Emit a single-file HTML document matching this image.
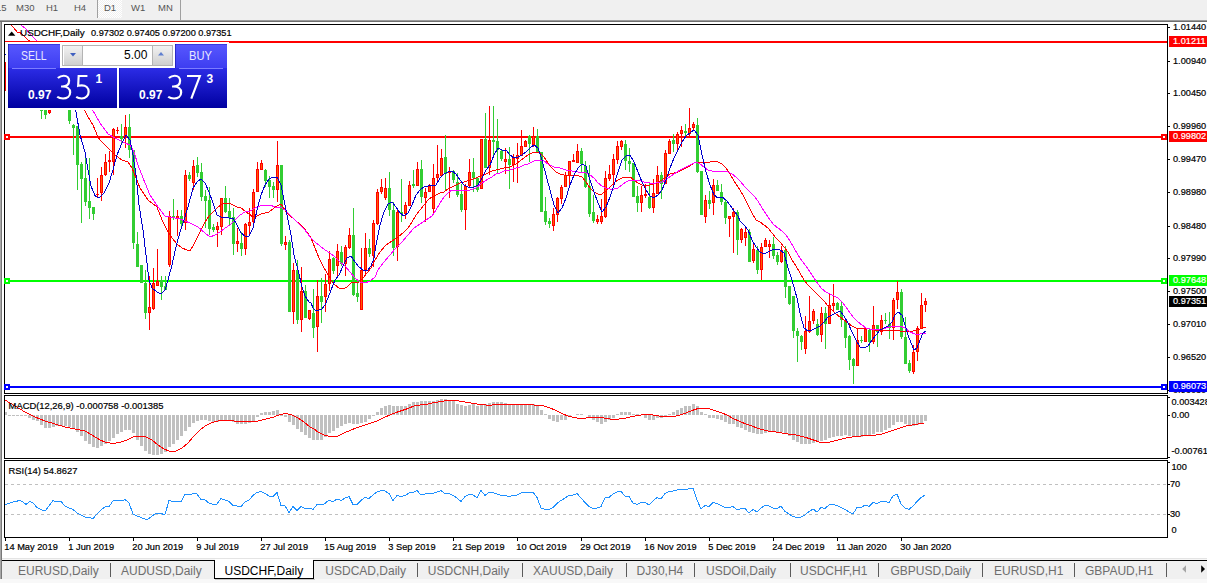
<!DOCTYPE html>
<html><head><meta charset="utf-8"><title>USDCHF,Daily</title>
<style>
html,body{margin:0;padding:0;}
body{width:1207px;height:583px;overflow:hidden;background:#fff;font-family:"Liberation Sans", sans-serif;position:relative;}
.abs{position:absolute;}
.t{position:absolute;white-space:nowrap;line-height:1;}
.k{-webkit-text-stroke:0.2px #000;}
.tf{position:absolute;top:2.4px;font-size:9.5px;color:#555;line-height:12px;white-space:nowrap;}
.ax{position:absolute;left:1173px;font-size:9.2px;color:#000;line-height:10px;white-space:nowrap;-webkit-text-stroke:0.2px #000;}
.lab{position:absolute;left:1169px;width:38px;height:11px;font-size:9.2px;color:#fff;line-height:11px;white-space:nowrap;text-indent:4px;-webkit-text-stroke:0.2px #fff;}
.dt{position:absolute;top:541.5px;font-size:9.25px;-webkit-text-stroke:0.2px #000;color:#000;line-height:10px;white-space:nowrap;}
.tab{position:absolute;top:563.8px;font-size:12px;color:#6e6e6e;line-height:15px;white-space:nowrap;}
.sep{position:absolute;top:563px;width:1px;height:14px;background:#5a5a5a;}
</style></head><body>
<div class="abs" style="left:0;top:0;width:1207px;height:20px;background:#f0f0f0;"></div>
<div class="abs" style="left:0;top:20px;width:1207px;height:1px;background:#9c9c9c;"></div>
<div class="abs" style="left:0;top:21px;width:1207px;height:1px;background:#6e6e6e;"></div>
<div class="abs" style="left:97px;top:0;width:25px;height:18px;background:repeating-conic-gradient(#ffffff 0 25%,#f0f0f0 0 50%) 0 0/2px 2px;border-left:1px solid #a0a0a0;box-sizing:border-box;"></div>
<div class="abs" style="left:180px;top:0;width:1px;height:20px;background:#a0a0a0;"></div>
<div class="tf" style="left:-4px;">15</div>
<div class="tf" style="left:16px;">M30</div>
<div class="tf" style="left:46px;">H1</div>
<div class="tf" style="left:74px;">H4</div>
<div class="tf" style="left:104px;">D1</div>
<div class="tf" style="left:131px;">W1</div>
<div class="tf" style="left:158px;">MN</div>
<div class="abs" style="left:0;top:22px;width:2px;height:536px;background:#787878;"></div>
<div class="abs" style="left:0;top:22px;width:1px;height:536px;background:#a8a8a8;"></div>
<svg class="abs" style="left:0;top:0;" width="1207" height="583" viewBox="0 0 1207 583" shape-rendering="crispEdges">
<rect x="229" y="41" width="938" height="2" fill="#ff0000"/>
<rect x="5" y="41" width="224" height="1" fill="#ff0000"/>
<rect x="4" y="136" width="1163" height="2" fill="#ff0000"/>
<rect x="4" y="280" width="1163" height="2" fill="#00ff00"/>
<rect x="4" y="386" width="1163" height="2" fill="#0000ff"/>
<rect x="41" y="110" width="1" height="9" fill="#32cd32"/>
<rect x="40" y="110" width="3" height="1" fill="#32cd32"/>
<rect x="45" y="110" width="1" height="9" fill="#32cd32"/>
<rect x="44" y="110" width="3" height="5" fill="#32cd32"/>
<rect x="49" y="110" width="1" height="4" fill="#ff0000"/>
<rect x="48" y="110" width="3" height="3" fill="#ff0000"/>
<rect x="49" y="111" width="1" height="1" fill="#ff5a00"/>
<rect x="69" y="110" width="1" height="14" fill="#32cd32"/>
<rect x="68" y="110" width="3" height="11" fill="#32cd32"/>
<rect x="73" y="124" width="1" height="31" fill="#32cd32"/>
<rect x="72" y="125" width="3" height="3" fill="#32cd32"/>
<rect x="77" y="126" width="1" height="64" fill="#32cd32"/>
<rect x="76" y="126" width="3" height="39" fill="#32cd32"/>
<rect x="81" y="162" width="1" height="61" fill="#32cd32"/>
<rect x="80" y="164" width="3" height="15" fill="#32cd32"/>
<rect x="85" y="155" width="1" height="51" fill="#32cd32"/>
<rect x="84" y="178" width="3" height="24" fill="#32cd32"/>
<rect x="89" y="158" width="1" height="61" fill="#32cd32"/>
<rect x="88" y="201" width="3" height="7" fill="#32cd32"/>
<rect x="93" y="207" width="1" height="13" fill="#32cd32"/>
<rect x="92" y="207" width="3" height="7" fill="#32cd32"/>
<rect x="97" y="178" width="1" height="20" fill="#ff0000"/>
<rect x="96" y="194" width="3" height="1" fill="#ff0000"/>
<rect x="101" y="167" width="1" height="34" fill="#ff0000"/>
<rect x="100" y="175" width="3" height="18" fill="#ff0000"/>
<rect x="101" y="176" width="1" height="16" fill="#ff5a00"/>
<rect x="105" y="154" width="1" height="22" fill="#ff0000"/>
<rect x="104" y="162" width="3" height="13" fill="#ff0000"/>
<rect x="105" y="163" width="1" height="11" fill="#ff5a00"/>
<rect x="109" y="151" width="1" height="21" fill="#ff0000"/>
<rect x="108" y="160" width="3" height="2" fill="#ff0000"/>
<rect x="113" y="128" width="1" height="47" fill="#ff0000"/>
<rect x="112" y="129" width="3" height="33" fill="#ff0000"/>
<rect x="113" y="130" width="1" height="31" fill="#ff5a00"/>
<rect x="117" y="127" width="1" height="7" fill="#ff0000"/>
<rect x="116" y="130" width="3" height="1" fill="#ff0000"/>
<rect x="121" y="124" width="1" height="20" fill="#32cd32"/>
<rect x="120" y="136" width="3" height="3" fill="#32cd32"/>
<rect x="125" y="115" width="1" height="33" fill="#ff0000"/>
<rect x="124" y="127" width="3" height="11" fill="#ff0000"/>
<rect x="125" y="128" width="1" height="9" fill="#ff5a00"/>
<rect x="129" y="114" width="1" height="44" fill="#32cd32"/>
<rect x="128" y="127" width="3" height="23" fill="#32cd32"/>
<rect x="133" y="150" width="1" height="99" fill="#32cd32"/>
<rect x="132" y="150" width="3" height="93" fill="#32cd32"/>
<rect x="137" y="232" width="1" height="35" fill="#32cd32"/>
<rect x="136" y="244" width="3" height="23" fill="#32cd32"/>
<rect x="141" y="265" width="1" height="18" fill="#32cd32"/>
<rect x="140" y="265" width="3" height="18" fill="#32cd32"/>
<rect x="145" y="270" width="1" height="49" fill="#32cd32"/>
<rect x="144" y="283" width="3" height="30" fill="#32cd32"/>
<rect x="149" y="276" width="1" height="54" fill="#ff0000"/>
<rect x="148" y="307" width="3" height="6" fill="#ff0000"/>
<rect x="149" y="308" width="1" height="4" fill="#ff5a00"/>
<rect x="153" y="268" width="1" height="42" fill="#ff0000"/>
<rect x="152" y="283" width="3" height="26" fill="#ff0000"/>
<rect x="153" y="284" width="1" height="24" fill="#ff5a00"/>
<rect x="157" y="249" width="1" height="37" fill="#ff0000"/>
<rect x="156" y="281" width="3" height="5" fill="#ff0000"/>
<rect x="157" y="282" width="1" height="3" fill="#ff5a00"/>
<rect x="161" y="276" width="1" height="24" fill="#32cd32"/>
<rect x="160" y="280" width="3" height="7" fill="#32cd32"/>
<rect x="165" y="276" width="1" height="14" fill="#32cd32"/>
<rect x="164" y="286" width="3" height="4" fill="#32cd32"/>
<rect x="169" y="211" width="1" height="56" fill="#ff0000"/>
<rect x="168" y="216" width="3" height="49" fill="#ff0000"/>
<rect x="169" y="217" width="1" height="47" fill="#ff5a00"/>
<rect x="173" y="199" width="1" height="21" fill="#32cd32"/>
<rect x="172" y="216" width="3" height="2" fill="#32cd32"/>
<rect x="177" y="210" width="1" height="26" fill="#ff0000"/>
<rect x="176" y="216" width="3" height="3" fill="#ff0000"/>
<rect x="177" y="217" width="1" height="1" fill="#ff5a00"/>
<rect x="181" y="210" width="1" height="18" fill="#32cd32"/>
<rect x="180" y="216" width="3" height="8" fill="#32cd32"/>
<rect x="185" y="170" width="1" height="60" fill="#ff0000"/>
<rect x="184" y="175" width="3" height="48" fill="#ff0000"/>
<rect x="185" y="176" width="1" height="46" fill="#ff5a00"/>
<rect x="189" y="172" width="1" height="9" fill="#32cd32"/>
<rect x="188" y="175" width="3" height="4" fill="#32cd32"/>
<rect x="193" y="160" width="1" height="30" fill="#ff0000"/>
<rect x="192" y="166" width="3" height="17" fill="#ff0000"/>
<rect x="193" y="167" width="1" height="15" fill="#ff5a00"/>
<rect x="197" y="157" width="1" height="20" fill="#32cd32"/>
<rect x="196" y="165" width="3" height="8" fill="#32cd32"/>
<rect x="201" y="163" width="1" height="38" fill="#32cd32"/>
<rect x="200" y="172" width="3" height="25" fill="#32cd32"/>
<rect x="205" y="190" width="1" height="38" fill="#32cd32"/>
<rect x="204" y="196" width="3" height="5" fill="#32cd32"/>
<rect x="209" y="187" width="1" height="48" fill="#32cd32"/>
<rect x="208" y="200" width="3" height="29" fill="#32cd32"/>
<rect x="213" y="224" width="1" height="8" fill="#32cd32"/>
<rect x="212" y="227" width="3" height="3" fill="#32cd32"/>
<rect x="217" y="222" width="1" height="25" fill="#ff0000"/>
<rect x="216" y="226" width="3" height="4" fill="#ff0000"/>
<rect x="217" y="227" width="1" height="2" fill="#ff5a00"/>
<rect x="221" y="198" width="1" height="37" fill="#ff0000"/>
<rect x="220" y="198" width="3" height="29" fill="#ff0000"/>
<rect x="221" y="199" width="1" height="27" fill="#ff5a00"/>
<rect x="225" y="186" width="1" height="27" fill="#32cd32"/>
<rect x="224" y="198" width="3" height="14" fill="#32cd32"/>
<rect x="229" y="198" width="1" height="28" fill="#32cd32"/>
<rect x="228" y="211" width="3" height="7" fill="#32cd32"/>
<rect x="233" y="208" width="1" height="47" fill="#32cd32"/>
<rect x="232" y="217" width="3" height="27" fill="#32cd32"/>
<rect x="237" y="228" width="1" height="24" fill="#ff0000"/>
<rect x="236" y="241" width="3" height="3" fill="#ff0000"/>
<rect x="237" y="242" width="1" height="1" fill="#ff5a00"/>
<rect x="241" y="232" width="1" height="24" fill="#32cd32"/>
<rect x="240" y="243" width="3" height="6" fill="#32cd32"/>
<rect x="245" y="223" width="1" height="32" fill="#ff0000"/>
<rect x="244" y="224" width="3" height="25" fill="#ff0000"/>
<rect x="245" y="225" width="1" height="23" fill="#ff5a00"/>
<rect x="249" y="208" width="1" height="28" fill="#ff0000"/>
<rect x="248" y="222" width="3" height="4" fill="#ff0000"/>
<rect x="249" y="223" width="1" height="2" fill="#ff5a00"/>
<rect x="253" y="189" width="1" height="35" fill="#ff0000"/>
<rect x="252" y="192" width="3" height="30" fill="#ff0000"/>
<rect x="253" y="193" width="1" height="28" fill="#ff5a00"/>
<rect x="257" y="162" width="1" height="30" fill="#ff0000"/>
<rect x="256" y="169" width="3" height="23" fill="#ff0000"/>
<rect x="257" y="170" width="1" height="21" fill="#ff5a00"/>
<rect x="261" y="160" width="1" height="10" fill="#ff0000"/>
<rect x="260" y="163" width="3" height="7" fill="#ff0000"/>
<rect x="261" y="164" width="1" height="5" fill="#ff5a00"/>
<rect x="265" y="169" width="1" height="18" fill="#32cd32"/>
<rect x="264" y="170" width="3" height="11" fill="#32cd32"/>
<rect x="269" y="176" width="1" height="22" fill="#32cd32"/>
<rect x="268" y="180" width="3" height="7" fill="#32cd32"/>
<rect x="273" y="182" width="1" height="16" fill="#32cd32"/>
<rect x="272" y="186" width="3" height="4" fill="#32cd32"/>
<rect x="277" y="141" width="1" height="61" fill="#ff0000"/>
<rect x="276" y="165" width="3" height="25" fill="#ff0000"/>
<rect x="277" y="166" width="1" height="23" fill="#ff5a00"/>
<rect x="281" y="165" width="1" height="81" fill="#32cd32"/>
<rect x="280" y="165" width="3" height="79" fill="#32cd32"/>
<rect x="285" y="236" width="1" height="14" fill="#ff0000"/>
<rect x="284" y="242" width="3" height="3" fill="#ff0000"/>
<rect x="285" y="243" width="1" height="1" fill="#ff5a00"/>
<rect x="289" y="240" width="1" height="72" fill="#32cd32"/>
<rect x="288" y="242" width="3" height="70" fill="#32cd32"/>
<rect x="293" y="263" width="1" height="61" fill="#ff0000"/>
<rect x="292" y="270" width="3" height="42" fill="#ff0000"/>
<rect x="293" y="271" width="1" height="40" fill="#ff5a00"/>
<rect x="297" y="260" width="1" height="64" fill="#32cd32"/>
<rect x="296" y="270" width="3" height="50" fill="#32cd32"/>
<rect x="301" y="267" width="1" height="65" fill="#ff0000"/>
<rect x="300" y="291" width="3" height="29" fill="#ff0000"/>
<rect x="301" y="292" width="1" height="27" fill="#ff5a00"/>
<rect x="305" y="285" width="1" height="33" fill="#32cd32"/>
<rect x="304" y="291" width="3" height="27" fill="#32cd32"/>
<rect x="309" y="310" width="1" height="10" fill="#ff0000"/>
<rect x="308" y="310" width="3" height="9" fill="#ff0000"/>
<rect x="309" y="311" width="1" height="7" fill="#ff5a00"/>
<rect x="313" y="289" width="1" height="49" fill="#32cd32"/>
<rect x="312" y="313" width="3" height="15" fill="#32cd32"/>
<rect x="317" y="280" width="1" height="72" fill="#ff0000"/>
<rect x="316" y="296" width="3" height="31" fill="#ff0000"/>
<rect x="317" y="297" width="1" height="29" fill="#ff5a00"/>
<rect x="321" y="278" width="1" height="45" fill="#32cd32"/>
<rect x="320" y="296" width="3" height="6" fill="#32cd32"/>
<rect x="325" y="274" width="1" height="38" fill="#ff0000"/>
<rect x="324" y="284" width="3" height="13" fill="#ff0000"/>
<rect x="325" y="285" width="1" height="11" fill="#ff5a00"/>
<rect x="329" y="251" width="1" height="40" fill="#ff0000"/>
<rect x="328" y="259" width="3" height="25" fill="#ff0000"/>
<rect x="329" y="260" width="1" height="23" fill="#ff5a00"/>
<rect x="333" y="257" width="1" height="17" fill="#32cd32"/>
<rect x="332" y="258" width="3" height="13" fill="#32cd32"/>
<rect x="337" y="244" width="1" height="34" fill="#ff0000"/>
<rect x="336" y="251" width="3" height="15" fill="#ff0000"/>
<rect x="337" y="252" width="1" height="13" fill="#ff5a00"/>
<rect x="341" y="246" width="1" height="20" fill="#32cd32"/>
<rect x="340" y="252" width="3" height="12" fill="#32cd32"/>
<rect x="345" y="245" width="1" height="31" fill="#ff0000"/>
<rect x="344" y="247" width="3" height="17" fill="#ff0000"/>
<rect x="345" y="248" width="1" height="15" fill="#ff5a00"/>
<rect x="349" y="228" width="1" height="21" fill="#ff0000"/>
<rect x="348" y="235" width="3" height="13" fill="#ff0000"/>
<rect x="349" y="236" width="1" height="11" fill="#ff5a00"/>
<rect x="353" y="208" width="1" height="88" fill="#32cd32"/>
<rect x="352" y="235" width="3" height="60" fill="#32cd32"/>
<rect x="357" y="281" width="1" height="21" fill="#32cd32"/>
<rect x="356" y="293" width="3" height="4" fill="#32cd32"/>
<rect x="361" y="248" width="1" height="62" fill="#ff0000"/>
<rect x="360" y="270" width="3" height="40" fill="#ff0000"/>
<rect x="361" y="271" width="1" height="38" fill="#ff5a00"/>
<rect x="365" y="233" width="1" height="43" fill="#ff0000"/>
<rect x="364" y="248" width="3" height="22" fill="#ff0000"/>
<rect x="365" y="249" width="1" height="20" fill="#ff5a00"/>
<rect x="369" y="239" width="1" height="18" fill="#32cd32"/>
<rect x="368" y="248" width="3" height="6" fill="#32cd32"/>
<rect x="373" y="220" width="1" height="47" fill="#ff0000"/>
<rect x="372" y="223" width="3" height="33" fill="#ff0000"/>
<rect x="373" y="224" width="1" height="31" fill="#ff5a00"/>
<rect x="377" y="189" width="1" height="36" fill="#ff0000"/>
<rect x="376" y="192" width="3" height="32" fill="#ff0000"/>
<rect x="377" y="193" width="1" height="30" fill="#ff5a00"/>
<rect x="381" y="179" width="1" height="15" fill="#ff0000"/>
<rect x="380" y="187" width="3" height="5" fill="#ff0000"/>
<rect x="381" y="188" width="1" height="3" fill="#ff5a00"/>
<rect x="385" y="178" width="1" height="22" fill="#ff0000"/>
<rect x="384" y="188" width="3" height="10" fill="#ff0000"/>
<rect x="385" y="189" width="1" height="8" fill="#ff5a00"/>
<rect x="389" y="172" width="1" height="44" fill="#32cd32"/>
<rect x="388" y="188" width="3" height="22" fill="#32cd32"/>
<rect x="393" y="202" width="1" height="54" fill="#32cd32"/>
<rect x="392" y="210" width="3" height="38" fill="#32cd32"/>
<rect x="397" y="209" width="1" height="52" fill="#ff0000"/>
<rect x="396" y="212" width="3" height="35" fill="#ff0000"/>
<rect x="397" y="213" width="1" height="33" fill="#ff5a00"/>
<rect x="401" y="179" width="1" height="43" fill="#32cd32"/>
<rect x="400" y="212" width="3" height="2" fill="#32cd32"/>
<rect x="405" y="202" width="1" height="17" fill="#ff0000"/>
<rect x="404" y="205" width="3" height="9" fill="#ff0000"/>
<rect x="405" y="206" width="1" height="7" fill="#ff5a00"/>
<rect x="409" y="181" width="1" height="25" fill="#ff0000"/>
<rect x="408" y="185" width="3" height="21" fill="#ff0000"/>
<rect x="409" y="186" width="1" height="19" fill="#ff5a00"/>
<rect x="413" y="170" width="1" height="18" fill="#32cd32"/>
<rect x="412" y="184" width="3" height="2" fill="#32cd32"/>
<rect x="417" y="162" width="1" height="24" fill="#ff0000"/>
<rect x="416" y="169" width="3" height="17" fill="#ff0000"/>
<rect x="417" y="170" width="1" height="15" fill="#ff5a00"/>
<rect x="421" y="160" width="1" height="43" fill="#32cd32"/>
<rect x="420" y="169" width="3" height="28" fill="#32cd32"/>
<rect x="425" y="188" width="1" height="34" fill="#ff0000"/>
<rect x="424" y="192" width="3" height="6" fill="#ff0000"/>
<rect x="425" y="193" width="1" height="4" fill="#ff5a00"/>
<rect x="429" y="184" width="1" height="8" fill="#ff0000"/>
<rect x="428" y="186" width="3" height="6" fill="#ff0000"/>
<rect x="429" y="187" width="1" height="4" fill="#ff5a00"/>
<rect x="433" y="164" width="1" height="51" fill="#ff0000"/>
<rect x="432" y="178" width="3" height="31" fill="#ff0000"/>
<rect x="433" y="179" width="1" height="29" fill="#ff5a00"/>
<rect x="437" y="145" width="1" height="38" fill="#ff0000"/>
<rect x="436" y="174" width="3" height="4" fill="#ff0000"/>
<rect x="437" y="175" width="1" height="2" fill="#ff5a00"/>
<rect x="441" y="149" width="1" height="27" fill="#ff0000"/>
<rect x="440" y="158" width="3" height="18" fill="#ff0000"/>
<rect x="441" y="159" width="1" height="16" fill="#ff5a00"/>
<rect x="445" y="135" width="1" height="56" fill="#32cd32"/>
<rect x="444" y="157" width="3" height="17" fill="#32cd32"/>
<rect x="449" y="167" width="1" height="31" fill="#ff0000"/>
<rect x="448" y="171" width="3" height="2" fill="#ff0000"/>
<rect x="453" y="170" width="1" height="13" fill="#32cd32"/>
<rect x="452" y="171" width="3" height="9" fill="#32cd32"/>
<rect x="457" y="173" width="1" height="24" fill="#32cd32"/>
<rect x="456" y="182" width="3" height="13" fill="#32cd32"/>
<rect x="461" y="184" width="1" height="28" fill="#32cd32"/>
<rect x="460" y="194" width="3" height="16" fill="#32cd32"/>
<rect x="465" y="184" width="1" height="46" fill="#ff0000"/>
<rect x="464" y="186" width="3" height="24" fill="#ff0000"/>
<rect x="465" y="187" width="1" height="22" fill="#ff5a00"/>
<rect x="469" y="159" width="1" height="28" fill="#ff0000"/>
<rect x="468" y="172" width="3" height="14" fill="#ff0000"/>
<rect x="469" y="173" width="1" height="12" fill="#ff5a00"/>
<rect x="473" y="158" width="1" height="34" fill="#32cd32"/>
<rect x="472" y="172" width="3" height="6" fill="#32cd32"/>
<rect x="477" y="177" width="1" height="15" fill="#32cd32"/>
<rect x="476" y="178" width="3" height="12" fill="#32cd32"/>
<rect x="481" y="139" width="1" height="50" fill="#ff0000"/>
<rect x="480" y="139" width="3" height="50" fill="#ff0000"/>
<rect x="481" y="140" width="1" height="48" fill="#ff5a00"/>
<rect x="485" y="113" width="1" height="55" fill="#32cd32"/>
<rect x="484" y="139" width="3" height="29" fill="#32cd32"/>
<rect x="489" y="106" width="1" height="69" fill="#ff0000"/>
<rect x="488" y="140" width="3" height="28" fill="#ff0000"/>
<rect x="489" y="141" width="1" height="26" fill="#ff5a00"/>
<rect x="493" y="106" width="1" height="51" fill="#32cd32"/>
<rect x="492" y="140" width="3" height="2" fill="#32cd32"/>
<rect x="497" y="119" width="1" height="55" fill="#32cd32"/>
<rect x="496" y="141" width="3" height="9" fill="#32cd32"/>
<rect x="501" y="150" width="1" height="11" fill="#32cd32"/>
<rect x="500" y="151" width="3" height="8" fill="#32cd32"/>
<rect x="505" y="148" width="1" height="26" fill="#ff0000"/>
<rect x="504" y="159" width="3" height="3" fill="#ff0000"/>
<rect x="505" y="160" width="1" height="1" fill="#ff5a00"/>
<rect x="509" y="147" width="1" height="42" fill="#32cd32"/>
<rect x="508" y="159" width="3" height="6" fill="#32cd32"/>
<rect x="513" y="154" width="1" height="28" fill="#ff0000"/>
<rect x="512" y="158" width="3" height="7" fill="#ff0000"/>
<rect x="513" y="159" width="1" height="5" fill="#ff5a00"/>
<rect x="517" y="143" width="1" height="40" fill="#ff0000"/>
<rect x="516" y="155" width="3" height="4" fill="#ff0000"/>
<rect x="517" y="156" width="1" height="2" fill="#ff5a00"/>
<rect x="521" y="130" width="1" height="26" fill="#ff0000"/>
<rect x="520" y="146" width="3" height="10" fill="#ff0000"/>
<rect x="521" y="147" width="1" height="8" fill="#ff5a00"/>
<rect x="525" y="140" width="1" height="7" fill="#ff0000"/>
<rect x="524" y="141" width="3" height="6" fill="#ff0000"/>
<rect x="525" y="142" width="1" height="4" fill="#ff5a00"/>
<rect x="529" y="135" width="1" height="27" fill="#32cd32"/>
<rect x="528" y="136" width="3" height="8" fill="#32cd32"/>
<rect x="533" y="127" width="1" height="20" fill="#ff0000"/>
<rect x="532" y="136" width="3" height="9" fill="#ff0000"/>
<rect x="533" y="137" width="1" height="7" fill="#ff5a00"/>
<rect x="537" y="129" width="1" height="24" fill="#32cd32"/>
<rect x="536" y="136" width="3" height="17" fill="#32cd32"/>
<rect x="541" y="152" width="1" height="60" fill="#32cd32"/>
<rect x="540" y="152" width="3" height="60" fill="#32cd32"/>
<rect x="545" y="197" width="1" height="28" fill="#32cd32"/>
<rect x="544" y="211" width="3" height="11" fill="#32cd32"/>
<rect x="549" y="218" width="1" height="10" fill="#32cd32"/>
<rect x="548" y="221" width="3" height="3" fill="#32cd32"/>
<rect x="553" y="208" width="1" height="23" fill="#ff0000"/>
<rect x="552" y="214" width="3" height="12" fill="#ff0000"/>
<rect x="553" y="215" width="1" height="10" fill="#ff5a00"/>
<rect x="557" y="197" width="1" height="25" fill="#ff0000"/>
<rect x="556" y="198" width="3" height="17" fill="#ff0000"/>
<rect x="557" y="199" width="1" height="15" fill="#ff5a00"/>
<rect x="561" y="185" width="1" height="19" fill="#ff0000"/>
<rect x="560" y="187" width="3" height="12" fill="#ff0000"/>
<rect x="561" y="188" width="1" height="10" fill="#ff5a00"/>
<rect x="565" y="172" width="1" height="15" fill="#ff0000"/>
<rect x="564" y="175" width="3" height="12" fill="#ff0000"/>
<rect x="565" y="176" width="1" height="10" fill="#ff5a00"/>
<rect x="569" y="161" width="1" height="25" fill="#ff0000"/>
<rect x="568" y="161" width="3" height="15" fill="#ff0000"/>
<rect x="569" y="162" width="1" height="13" fill="#ff5a00"/>
<rect x="573" y="154" width="1" height="8" fill="#ff0000"/>
<rect x="572" y="160" width="3" height="2" fill="#ff0000"/>
<rect x="577" y="144" width="1" height="19" fill="#ff0000"/>
<rect x="576" y="151" width="3" height="12" fill="#ff0000"/>
<rect x="577" y="152" width="1" height="10" fill="#ff5a00"/>
<rect x="581" y="148" width="1" height="24" fill="#32cd32"/>
<rect x="580" y="151" width="3" height="13" fill="#32cd32"/>
<rect x="585" y="161" width="1" height="27" fill="#32cd32"/>
<rect x="584" y="166" width="3" height="21" fill="#32cd32"/>
<rect x="589" y="165" width="1" height="52" fill="#32cd32"/>
<rect x="588" y="186" width="3" height="28" fill="#32cd32"/>
<rect x="593" y="195" width="1" height="28" fill="#32cd32"/>
<rect x="592" y="212" width="3" height="9" fill="#32cd32"/>
<rect x="597" y="215" width="1" height="9" fill="#ff0000"/>
<rect x="596" y="219" width="3" height="3" fill="#ff0000"/>
<rect x="597" y="220" width="1" height="1" fill="#ff5a00"/>
<rect x="601" y="199" width="1" height="25" fill="#ff0000"/>
<rect x="600" y="216" width="3" height="6" fill="#ff0000"/>
<rect x="601" y="217" width="1" height="4" fill="#ff5a00"/>
<rect x="605" y="171" width="1" height="47" fill="#ff0000"/>
<rect x="604" y="178" width="3" height="39" fill="#ff0000"/>
<rect x="605" y="179" width="1" height="37" fill="#ff5a00"/>
<rect x="609" y="165" width="1" height="16" fill="#ff0000"/>
<rect x="608" y="174" width="3" height="5" fill="#ff0000"/>
<rect x="609" y="175" width="1" height="3" fill="#ff5a00"/>
<rect x="613" y="154" width="1" height="31" fill="#ff0000"/>
<rect x="612" y="159" width="3" height="16" fill="#ff0000"/>
<rect x="613" y="160" width="1" height="14" fill="#ff5a00"/>
<rect x="617" y="141" width="1" height="23" fill="#ff0000"/>
<rect x="616" y="146" width="3" height="14" fill="#ff0000"/>
<rect x="617" y="147" width="1" height="12" fill="#ff5a00"/>
<rect x="621" y="140" width="1" height="10" fill="#ff0000"/>
<rect x="620" y="141" width="3" height="6" fill="#ff0000"/>
<rect x="621" y="142" width="1" height="4" fill="#ff5a00"/>
<rect x="625" y="140" width="1" height="30" fill="#32cd32"/>
<rect x="624" y="144" width="3" height="17" fill="#32cd32"/>
<rect x="629" y="148" width="1" height="24" fill="#32cd32"/>
<rect x="628" y="161" width="3" height="3" fill="#32cd32"/>
<rect x="633" y="163" width="1" height="34" fill="#32cd32"/>
<rect x="632" y="163" width="3" height="34" fill="#32cd32"/>
<rect x="637" y="186" width="1" height="26" fill="#32cd32"/>
<rect x="636" y="196" width="3" height="7" fill="#32cd32"/>
<rect x="641" y="186" width="1" height="26" fill="#ff0000"/>
<rect x="640" y="195" width="3" height="8" fill="#ff0000"/>
<rect x="641" y="196" width="1" height="6" fill="#ff5a00"/>
<rect x="645" y="184" width="1" height="14" fill="#ff0000"/>
<rect x="644" y="194" width="3" height="2" fill="#ff0000"/>
<rect x="649" y="182" width="1" height="27" fill="#32cd32"/>
<rect x="648" y="197" width="3" height="11" fill="#32cd32"/>
<rect x="653" y="179" width="1" height="34" fill="#ff0000"/>
<rect x="652" y="193" width="3" height="15" fill="#ff0000"/>
<rect x="653" y="194" width="1" height="13" fill="#ff5a00"/>
<rect x="657" y="166" width="1" height="28" fill="#ff0000"/>
<rect x="656" y="175" width="3" height="19" fill="#ff0000"/>
<rect x="657" y="176" width="1" height="17" fill="#ff5a00"/>
<rect x="661" y="172" width="1" height="27" fill="#32cd32"/>
<rect x="660" y="175" width="3" height="9" fill="#32cd32"/>
<rect x="665" y="150" width="1" height="34" fill="#ff0000"/>
<rect x="664" y="153" width="3" height="31" fill="#ff0000"/>
<rect x="665" y="154" width="1" height="29" fill="#ff5a00"/>
<rect x="669" y="139" width="1" height="15" fill="#ff0000"/>
<rect x="668" y="141" width="3" height="13" fill="#ff0000"/>
<rect x="669" y="142" width="1" height="11" fill="#ff5a00"/>
<rect x="673" y="134" width="1" height="18" fill="#32cd32"/>
<rect x="672" y="140" width="3" height="4" fill="#32cd32"/>
<rect x="677" y="132" width="1" height="20" fill="#ff0000"/>
<rect x="676" y="134" width="3" height="10" fill="#ff0000"/>
<rect x="677" y="135" width="1" height="8" fill="#ff5a00"/>
<rect x="681" y="126" width="1" height="21" fill="#ff0000"/>
<rect x="680" y="130" width="3" height="4" fill="#ff0000"/>
<rect x="681" y="131" width="1" height="2" fill="#ff5a00"/>
<rect x="685" y="124" width="1" height="13" fill="#32cd32"/>
<rect x="684" y="131" width="3" height="2" fill="#32cd32"/>
<rect x="689" y="108" width="1" height="30" fill="#ff0000"/>
<rect x="688" y="128" width="3" height="6" fill="#ff0000"/>
<rect x="689" y="129" width="1" height="4" fill="#ff5a00"/>
<rect x="693" y="122" width="1" height="8" fill="#ff0000"/>
<rect x="692" y="124" width="3" height="4" fill="#ff0000"/>
<rect x="693" y="125" width="1" height="2" fill="#ff5a00"/>
<rect x="697" y="118" width="1" height="55" fill="#32cd32"/>
<rect x="696" y="125" width="3" height="47" fill="#32cd32"/>
<rect x="701" y="171" width="1" height="44" fill="#32cd32"/>
<rect x="700" y="171" width="3" height="44" fill="#32cd32"/>
<rect x="705" y="195" width="1" height="28" fill="#ff0000"/>
<rect x="704" y="200" width="3" height="17" fill="#ff0000"/>
<rect x="705" y="201" width="1" height="15" fill="#ff5a00"/>
<rect x="709" y="191" width="1" height="18" fill="#32cd32"/>
<rect x="708" y="200" width="3" height="4" fill="#32cd32"/>
<rect x="713" y="179" width="1" height="36" fill="#ff0000"/>
<rect x="712" y="185" width="3" height="18" fill="#ff0000"/>
<rect x="713" y="186" width="1" height="16" fill="#ff5a00"/>
<rect x="717" y="180" width="1" height="11" fill="#32cd32"/>
<rect x="716" y="185" width="3" height="6" fill="#32cd32"/>
<rect x="721" y="184" width="1" height="21" fill="#32cd32"/>
<rect x="720" y="192" width="3" height="10" fill="#32cd32"/>
<rect x="725" y="200" width="1" height="24" fill="#32cd32"/>
<rect x="724" y="202" width="3" height="16" fill="#32cd32"/>
<rect x="729" y="216" width="1" height="21" fill="#ff0000"/>
<rect x="728" y="216" width="3" height="3" fill="#ff0000"/>
<rect x="729" y="217" width="1" height="1" fill="#ff5a00"/>
<rect x="733" y="208" width="1" height="45" fill="#ff0000"/>
<rect x="732" y="212" width="3" height="5" fill="#ff0000"/>
<rect x="733" y="213" width="1" height="3" fill="#ff5a00"/>
<rect x="737" y="210" width="1" height="45" fill="#32cd32"/>
<rect x="736" y="212" width="3" height="28" fill="#32cd32"/>
<rect x="741" y="228" width="1" height="15" fill="#ff0000"/>
<rect x="740" y="229" width="3" height="11" fill="#ff0000"/>
<rect x="741" y="230" width="1" height="9" fill="#ff5a00"/>
<rect x="745" y="228" width="1" height="18" fill="#ff0000"/>
<rect x="744" y="232" width="3" height="6" fill="#ff0000"/>
<rect x="745" y="233" width="1" height="4" fill="#ff5a00"/>
<rect x="749" y="229" width="1" height="33" fill="#32cd32"/>
<rect x="748" y="232" width="3" height="30" fill="#32cd32"/>
<rect x="753" y="244" width="1" height="19" fill="#ff0000"/>
<rect x="752" y="249" width="3" height="12" fill="#ff0000"/>
<rect x="753" y="250" width="1" height="10" fill="#ff5a00"/>
<rect x="757" y="246" width="1" height="28" fill="#32cd32"/>
<rect x="756" y="250" width="3" height="20" fill="#32cd32"/>
<rect x="761" y="243" width="1" height="37" fill="#ff0000"/>
<rect x="760" y="247" width="3" height="23" fill="#ff0000"/>
<rect x="761" y="248" width="1" height="21" fill="#ff5a00"/>
<rect x="765" y="238" width="1" height="9" fill="#ff0000"/>
<rect x="764" y="240" width="3" height="7" fill="#ff0000"/>
<rect x="765" y="241" width="1" height="5" fill="#ff5a00"/>
<rect x="769" y="240" width="1" height="18" fill="#ff0000"/>
<rect x="768" y="244" width="3" height="3" fill="#ff0000"/>
<rect x="769" y="245" width="1" height="1" fill="#ff5a00"/>
<rect x="773" y="237" width="1" height="22" fill="#32cd32"/>
<rect x="772" y="244" width="3" height="12" fill="#32cd32"/>
<rect x="777" y="252" width="1" height="13" fill="#32cd32"/>
<rect x="776" y="255" width="3" height="7" fill="#32cd32"/>
<rect x="781" y="246" width="1" height="17" fill="#ff0000"/>
<rect x="780" y="250" width="3" height="12" fill="#ff0000"/>
<rect x="781" y="251" width="1" height="10" fill="#ff5a00"/>
<rect x="785" y="246" width="1" height="52" fill="#32cd32"/>
<rect x="784" y="250" width="3" height="37" fill="#32cd32"/>
<rect x="789" y="286" width="1" height="19" fill="#32cd32"/>
<rect x="788" y="286" width="3" height="18" fill="#32cd32"/>
<rect x="793" y="296" width="1" height="42" fill="#32cd32"/>
<rect x="792" y="296" width="3" height="35" fill="#32cd32"/>
<rect x="797" y="328" width="1" height="34" fill="#32cd32"/>
<rect x="796" y="331" width="3" height="5" fill="#32cd32"/>
<rect x="801" y="335" width="1" height="15" fill="#32cd32"/>
<rect x="800" y="336" width="3" height="6" fill="#32cd32"/>
<rect x="805" y="316" width="1" height="38" fill="#ff0000"/>
<rect x="804" y="331" width="3" height="18" fill="#ff0000"/>
<rect x="805" y="332" width="1" height="16" fill="#ff5a00"/>
<rect x="809" y="296" width="1" height="37" fill="#ff0000"/>
<rect x="808" y="321" width="3" height="11" fill="#ff0000"/>
<rect x="809" y="322" width="1" height="9" fill="#ff5a00"/>
<rect x="813" y="309" width="1" height="15" fill="#ff0000"/>
<rect x="812" y="311" width="3" height="10" fill="#ff0000"/>
<rect x="813" y="312" width="1" height="8" fill="#ff5a00"/>
<rect x="817" y="319" width="1" height="17" fill="#32cd32"/>
<rect x="816" y="324" width="3" height="11" fill="#32cd32"/>
<rect x="821" y="307" width="1" height="35" fill="#ff0000"/>
<rect x="820" y="313" width="3" height="22" fill="#ff0000"/>
<rect x="821" y="314" width="1" height="20" fill="#ff5a00"/>
<rect x="825" y="307" width="1" height="42" fill="#32cd32"/>
<rect x="824" y="313" width="3" height="11" fill="#32cd32"/>
<rect x="829" y="293" width="1" height="31" fill="#ff0000"/>
<rect x="828" y="305" width="3" height="19" fill="#ff0000"/>
<rect x="829" y="306" width="1" height="17" fill="#ff5a00"/>
<rect x="833" y="284" width="1" height="28" fill="#ff0000"/>
<rect x="832" y="303" width="3" height="3" fill="#ff0000"/>
<rect x="833" y="304" width="1" height="1" fill="#ff5a00"/>
<rect x="837" y="302" width="1" height="8" fill="#32cd32"/>
<rect x="836" y="303" width="3" height="7" fill="#32cd32"/>
<rect x="841" y="301" width="1" height="26" fill="#32cd32"/>
<rect x="840" y="306" width="3" height="14" fill="#32cd32"/>
<rect x="845" y="318" width="1" height="30" fill="#32cd32"/>
<rect x="844" y="320" width="3" height="18" fill="#32cd32"/>
<rect x="849" y="335" width="1" height="35" fill="#32cd32"/>
<rect x="848" y="336" width="3" height="24" fill="#32cd32"/>
<rect x="853" y="358" width="1" height="26" fill="#32cd32"/>
<rect x="852" y="359" width="3" height="7" fill="#32cd32"/>
<rect x="857" y="328" width="1" height="38" fill="#ff0000"/>
<rect x="856" y="340" width="3" height="26" fill="#ff0000"/>
<rect x="857" y="341" width="1" height="24" fill="#ff5a00"/>
<rect x="861" y="336" width="1" height="7" fill="#32cd32"/>
<rect x="860" y="340" width="3" height="1" fill="#32cd32"/>
<rect x="865" y="327" width="1" height="15" fill="#ff0000"/>
<rect x="864" y="329" width="3" height="13" fill="#ff0000"/>
<rect x="865" y="330" width="1" height="11" fill="#ff5a00"/>
<rect x="869" y="329" width="1" height="23" fill="#32cd32"/>
<rect x="868" y="330" width="3" height="12" fill="#32cd32"/>
<rect x="873" y="306" width="1" height="38" fill="#ff0000"/>
<rect x="872" y="325" width="3" height="17" fill="#ff0000"/>
<rect x="873" y="326" width="1" height="15" fill="#ff5a00"/>
<rect x="877" y="325" width="1" height="22" fill="#32cd32"/>
<rect x="876" y="325" width="3" height="7" fill="#32cd32"/>
<rect x="881" y="315" width="1" height="20" fill="#ff0000"/>
<rect x="880" y="320" width="3" height="12" fill="#ff0000"/>
<rect x="881" y="321" width="1" height="10" fill="#ff5a00"/>
<rect x="885" y="313" width="1" height="11" fill="#32cd32"/>
<rect x="884" y="320" width="3" height="1" fill="#32cd32"/>
<rect x="889" y="312" width="1" height="27" fill="#32cd32"/>
<rect x="888" y="324" width="3" height="4" fill="#32cd32"/>
<rect x="893" y="298" width="1" height="42" fill="#ff0000"/>
<rect x="892" y="300" width="3" height="28" fill="#ff0000"/>
<rect x="893" y="301" width="1" height="26" fill="#ff5a00"/>
<rect x="897" y="281" width="1" height="28" fill="#ff0000"/>
<rect x="896" y="292" width="3" height="8" fill="#ff0000"/>
<rect x="897" y="293" width="1" height="6" fill="#ff5a00"/>
<rect x="901" y="289" width="1" height="50" fill="#32cd32"/>
<rect x="900" y="292" width="3" height="45" fill="#32cd32"/>
<rect x="905" y="317" width="1" height="47" fill="#32cd32"/>
<rect x="904" y="337" width="3" height="27" fill="#32cd32"/>
<rect x="909" y="360" width="1" height="13" fill="#32cd32"/>
<rect x="908" y="363" width="3" height="8" fill="#32cd32"/>
<rect x="913" y="345" width="1" height="29" fill="#ff0000"/>
<rect x="912" y="352" width="3" height="20" fill="#ff0000"/>
<rect x="913" y="353" width="1" height="18" fill="#ff5a00"/>
<rect x="917" y="326" width="1" height="35" fill="#ff0000"/>
<rect x="916" y="328" width="3" height="24" fill="#ff0000"/>
<rect x="917" y="329" width="1" height="22" fill="#ff5a00"/>
<rect x="921" y="293" width="1" height="36" fill="#ff0000"/>
<rect x="920" y="305" width="3" height="24" fill="#ff0000"/>
<rect x="921" y="306" width="1" height="22" fill="#ff5a00"/>
<rect x="925" y="298" width="1" height="14" fill="#ff0000"/>
<rect x="924" y="301" width="3" height="4" fill="#ff0000"/>
<rect x="925" y="302" width="1" height="2" fill="#ff5a00"/>
<polyline points="84,109 88,117 93,125 98,137 100,140 108,148 115,155 122,160 128,162 132,168 136,178 140,188 148,200 157,207 162,220 167,230 172,238 177,244 182,248 187,250 190,251 193,246 197,238 201,230 205,222 209,216 213,212 217,208 221,205 225,203 229,203 233,205 237,207 241,208 245,211 249,214 253,217 257,216 261,214 265,213 269,212 273,209 277,206 281,204 283,207 287,213 295,220 303,227 307,232 311,238 315,248 319,258 323,266 327,273 331,280 335,285 339,288 343,289 347,287 351,283 355,282 359,282 363,278 367,273 371,268 374,262 380,252 386,245 392,241 398,237 404,232 408,228 412,222 416,215 420,210 424,205 428,200 432,197 436,195 440,193 444,192 448,189 452,187 456,185 460,183 464,182 470,180 476,178 480,176 484,175 488,173 492,171 496,170 500,169 504,168 510,167 516,164 520,161 524,158 528,155 532,153 536,152 540,153 544,157 548,163 552,168 556,172 560,174 564,175 570,175 576,175 582,177 586,182 590,188 594,192 598,194 602,194 606,191 610,187 614,183 618,180 622,178 626,177 630,177 634,180 638,183 642,185 646,185 650,185 654,184 658,182 662,180 666,177 670,174 674,173 678,172 682,170 686,168 690,166 694,163 698,162 702,162 706,163 710,162 714,161 718,162 722,164 726,168 730,174 734,181 738,187 743,195 748,205 752,213 756,220 760,222 764,225 768,228 772,233 776,238 780,242 784,247 788,252 792,260 796,266 800,273 804,280 808,285 812,289 816,293 820,297 824,301 828,306 832,310 836,314 840,317 844,320 848,323 852,326 856,328 862,328 866,328 870,329 874,330 880,330 890,330 900,331 910,332 920,329 926,327" fill="none" stroke="#ff0000" stroke-width="1" stroke-linejoin="round"/>
<polyline points="92,109 100,123 108,134 115,138 125,143 130,145 134,152 138,165 143,178 150,195 158,207 165,216 170,217 180,219 190,223 198,227 205,233 210,237 215,235 220,232 225,228 230,225 235,220 240,215 245,212 250,211 255,208 260,206 265,205 270,205 275,207 280,207 285,210 290,215 295,220 300,225 305,230 310,237 315,242 320,246 325,250 330,253 335,257 340,262 345,266 350,272 355,278 360,282 365,283 370,281 375,277 378,270 384,262 390,255 396,248 402,242 408,235 414,228 420,224 426,220 432,216 436,210 440,203 444,197 448,193 452,190 456,190 460,190 464,191 470,190 476,188 482,183 488,179 492,177 496,174 500,173 504,171 510,170 516,168 520,167 524,165 528,164 532,162 536,160 540,160 544,161 548,164 554,167 560,168 566,170 572,171 578,172 584,172 590,175 594,178 598,183 602,186 606,188 610,189 614,189 618,188 622,185 626,182 630,180 634,180 638,180 644,182 650,183 656,183 662,182 668,178 674,174 680,170 686,167 692,164 696,162 700,164 704,167 708,170 712,171 718,171 724,171 728,172 732,174 736,177 740,181 745,187 750,192 754,196 758,201 762,208 766,214 770,220 774,225 778,228 782,231 786,235 790,241 794,248 798,255 802,261 806,266 810,272 814,278 818,284 822,289 826,292 830,294 834,296 838,298 842,302 846,307 850,313 854,318 858,322 862,325 866,328 870,329 875,330 882,329 890,327 896,326 900,326 905,328 910,332 915,334 920,334 926,333" fill="none" stroke="#ff00ff" stroke-width="1" stroke-linejoin="round"/>
<polyline points="75.5,109 80,135 85,152 88,170 91,186 95,195.5 98,198 100,197 104,193 109,183 113,170 117,155 122,143 126,135 130,140 133,155 136,175 139,205 143,230 146,255 149,280 152,288 157,292 161,294 165,290 168,280 172,265 176,247 180,232 184,220 188,207 193,188 197,182 201,179 205,183 209,192 213,203 217,215 221,217 225,217 229,218 233,218 237,225 241,233 245,236 249,236 253,228 257,210 261,195 265,185 269,179 273,177 277,177 281,185 285,205 287,215 291,235 294,255 298,270 302,287 305,296 309,302 311,303 313,308 316,311 319,310 322,309 325,305 328,298 331,290 335,280 339,275 343,266 347,258 351,256 355,262 359,267 363,270 367,271 371,266 374,258 376,245 380,225 384,212 388,204 392,202 396,207 400,213 404,216 408,213 412,205 416,195 420,190 424,187 428,186 432,185 436,185 440,178 444,174 448,172 452,171 456,174 460,180 464,185 468,187 474,187 478,185 482,178 486,170 490,165 494,155 498,148 502,150 506,150 510,155 514,158 518,157 522,155 526,152 530,148 534,145 538,148 542,160 546,175 550,190 554,205 558,213 562,208 566,198 570,185 574,175 578,168 582,164 586,166 590,180 594,192 598,203 602,212 606,207 610,197 614,185 618,172 622,160 626,156 630,155 634,162 638,172 642,182 646,190 650,196 654,198 658,195 662,190 666,180 670,168 674,158 678,150 682,142 686,136 690,133 694,130 698,135 702,155 706,172 710,185 714,195 718,198 722,197 726,200 730,205 734,211 738,216 740,221 744,225 748,230 752,240 756,247 760,252 764,254 768,252 772,250 776,249 780,250 784,253 788,268 792,280 797,298 800,313 804,328 808,331 812,330 816,328 820,326 824,322 828,317 832,315 836,313 840,311 844,316 848,323 852,332 856,340 860,347 864,348 868,346 872,340 876,335 880,330 884,328 888,326 892,322 895,315 898,312 902,315 905,325 908,335 911,343 914,350 917,348 920,340 923,333 926,331" fill="none" stroke="#0000cd" stroke-width="1" stroke-linejoin="round"/>
<polyline points="11,25 14,28 17,32 20,32.5 24,36 28,40 30,41" fill="none" stroke="#ff0000" stroke-width="1" stroke-linejoin="round"/>
<polyline points="21,25 26,29 30,34 34,38 37,41" fill="none" stroke="#ff00ff" stroke-width="1" stroke-linejoin="round"/>
<rect x="4" y="412" width="3" height="3" fill="#c0c0c0"/>
<rect x="8" y="415" width="3" height="1" fill="#c0c0c0"/>
<rect x="12" y="415" width="3" height="1" fill="#c0c0c0"/>
<rect x="16" y="415" width="3" height="1" fill="#c0c0c0"/>
<rect x="20" y="415" width="3" height="1" fill="#c0c0c0"/>
<rect x="24" y="415" width="3" height="1" fill="#c0c0c0"/>
<rect x="28" y="415" width="3" height="3" fill="#c0c0c0"/>
<rect x="32" y="415" width="3" height="5" fill="#c0c0c0"/>
<rect x="36" y="415" width="3" height="6" fill="#c0c0c0"/>
<rect x="40" y="415" width="3" height="10" fill="#c0c0c0"/>
<rect x="44" y="415" width="3" height="13" fill="#c0c0c0"/>
<rect x="48" y="415" width="3" height="13" fill="#c0c0c0"/>
<rect x="52" y="415" width="3" height="12" fill="#c0c0c0"/>
<rect x="56" y="415" width="3" height="11" fill="#c0c0c0"/>
<rect x="60" y="415" width="3" height="11" fill="#c0c0c0"/>
<rect x="64" y="415" width="3" height="11" fill="#c0c0c0"/>
<rect x="68" y="415" width="3" height="12" fill="#c0c0c0"/>
<rect x="72" y="415" width="3" height="14" fill="#c0c0c0"/>
<rect x="76" y="415" width="3" height="17" fill="#c0c0c0"/>
<rect x="80" y="415" width="3" height="21" fill="#c0c0c0"/>
<rect x="84" y="415" width="3" height="26" fill="#c0c0c0"/>
<rect x="88" y="415" width="3" height="29" fill="#c0c0c0"/>
<rect x="92" y="415" width="3" height="32" fill="#c0c0c0"/>
<rect x="96" y="415" width="3" height="33" fill="#c0c0c0"/>
<rect x="100" y="415" width="3" height="31" fill="#c0c0c0"/>
<rect x="104" y="415" width="3" height="29" fill="#c0c0c0"/>
<rect x="108" y="415" width="3" height="26" fill="#c0c0c0"/>
<rect x="112" y="415" width="3" height="23" fill="#c0c0c0"/>
<rect x="116" y="415" width="3" height="19" fill="#c0c0c0"/>
<rect x="120" y="415" width="3" height="17" fill="#c0c0c0"/>
<rect x="124" y="415" width="3" height="15" fill="#c0c0c0"/>
<rect x="128" y="415" width="3" height="15" fill="#c0c0c0"/>
<rect x="132" y="415" width="3" height="18" fill="#c0c0c0"/>
<rect x="136" y="415" width="3" height="25" fill="#c0c0c0"/>
<rect x="140" y="415" width="3" height="31" fill="#c0c0c0"/>
<rect x="144" y="415" width="3" height="36" fill="#c0c0c0"/>
<rect x="148" y="415" width="3" height="39" fill="#c0c0c0"/>
<rect x="152" y="415" width="3" height="40" fill="#c0c0c0"/>
<rect x="156" y="415" width="3" height="40" fill="#c0c0c0"/>
<rect x="160" y="415" width="3" height="39" fill="#c0c0c0"/>
<rect x="164" y="415" width="3" height="37" fill="#c0c0c0"/>
<rect x="168" y="415" width="3" height="32" fill="#c0c0c0"/>
<rect x="172" y="415" width="3" height="29" fill="#c0c0c0"/>
<rect x="176" y="415" width="3" height="25" fill="#c0c0c0"/>
<rect x="180" y="415" width="3" height="21" fill="#c0c0c0"/>
<rect x="184" y="415" width="3" height="16" fill="#c0c0c0"/>
<rect x="188" y="415" width="3" height="12" fill="#c0c0c0"/>
<rect x="192" y="415" width="3" height="8" fill="#c0c0c0"/>
<rect x="196" y="415" width="3" height="6" fill="#c0c0c0"/>
<rect x="200" y="415" width="3" height="5" fill="#c0c0c0"/>
<rect x="204" y="415" width="3" height="5" fill="#c0c0c0"/>
<rect x="208" y="415" width="3" height="6" fill="#c0c0c0"/>
<rect x="212" y="415" width="3" height="7" fill="#c0c0c0"/>
<rect x="216" y="415" width="3" height="7" fill="#c0c0c0"/>
<rect x="220" y="415" width="3" height="6" fill="#c0c0c0"/>
<rect x="224" y="415" width="3" height="6" fill="#c0c0c0"/>
<rect x="228" y="415" width="3" height="6" fill="#c0c0c0"/>
<rect x="232" y="415" width="3" height="7" fill="#c0c0c0"/>
<rect x="236" y="415" width="3" height="9" fill="#c0c0c0"/>
<rect x="240" y="415" width="3" height="9" fill="#c0c0c0"/>
<rect x="244" y="415" width="3" height="9" fill="#c0c0c0"/>
<rect x="248" y="415" width="3" height="8" fill="#c0c0c0"/>
<rect x="252" y="415" width="3" height="6" fill="#c0c0c0"/>
<rect x="256" y="415" width="3" height="2" fill="#c0c0c0"/>
<rect x="260" y="413" width="3" height="2" fill="#c0c0c0"/>
<rect x="264" y="412" width="3" height="3" fill="#c0c0c0"/>
<rect x="268" y="412" width="3" height="3" fill="#c0c0c0"/>
<rect x="272" y="411" width="3" height="4" fill="#c0c0c0"/>
<rect x="276" y="410" width="3" height="5" fill="#c0c0c0"/>
<rect x="280" y="415" width="3" height="1" fill="#c0c0c0"/>
<rect x="284" y="415" width="3" height="2" fill="#c0c0c0"/>
<rect x="288" y="415" width="3" height="7" fill="#c0c0c0"/>
<rect x="292" y="415" width="3" height="10" fill="#c0c0c0"/>
<rect x="296" y="415" width="3" height="14" fill="#c0c0c0"/>
<rect x="300" y="415" width="3" height="17" fill="#c0c0c0"/>
<rect x="304" y="415" width="3" height="20" fill="#c0c0c0"/>
<rect x="308" y="415" width="3" height="23" fill="#c0c0c0"/>
<rect x="312" y="415" width="3" height="25" fill="#c0c0c0"/>
<rect x="316" y="415" width="3" height="25" fill="#c0c0c0"/>
<rect x="320" y="415" width="3" height="25" fill="#c0c0c0"/>
<rect x="324" y="415" width="3" height="22" fill="#c0c0c0"/>
<rect x="328" y="415" width="3" height="18" fill="#c0c0c0"/>
<rect x="332" y="415" width="3" height="16" fill="#c0c0c0"/>
<rect x="336" y="415" width="3" height="13" fill="#c0c0c0"/>
<rect x="340" y="415" width="3" height="11" fill="#c0c0c0"/>
<rect x="344" y="415" width="3" height="9" fill="#c0c0c0"/>
<rect x="348" y="415" width="3" height="8" fill="#c0c0c0"/>
<rect x="352" y="415" width="3" height="9" fill="#c0c0c0"/>
<rect x="356" y="415" width="3" height="9" fill="#c0c0c0"/>
<rect x="360" y="415" width="3" height="8" fill="#c0c0c0"/>
<rect x="364" y="415" width="3" height="7" fill="#c0c0c0"/>
<rect x="368" y="415" width="3" height="4" fill="#c0c0c0"/>
<rect x="372" y="415" width="3" height="1" fill="#c0c0c0"/>
<rect x="376" y="412" width="3" height="3" fill="#c0c0c0"/>
<rect x="380" y="408" width="3" height="7" fill="#c0c0c0"/>
<rect x="384" y="406" width="3" height="9" fill="#c0c0c0"/>
<rect x="388" y="405" width="3" height="10" fill="#c0c0c0"/>
<rect x="392" y="406" width="3" height="9" fill="#c0c0c0"/>
<rect x="396" y="406" width="3" height="9" fill="#c0c0c0"/>
<rect x="400" y="406" width="3" height="9" fill="#c0c0c0"/>
<rect x="404" y="406" width="3" height="9" fill="#c0c0c0"/>
<rect x="408" y="404" width="3" height="11" fill="#c0c0c0"/>
<rect x="412" y="402" width="3" height="13" fill="#c0c0c0"/>
<rect x="416" y="402" width="3" height="13" fill="#c0c0c0"/>
<rect x="420" y="401" width="3" height="14" fill="#c0c0c0"/>
<rect x="424" y="401" width="3" height="14" fill="#c0c0c0"/>
<rect x="428" y="401" width="3" height="14" fill="#c0c0c0"/>
<rect x="432" y="401" width="3" height="14" fill="#c0c0c0"/>
<rect x="436" y="400" width="3" height="15" fill="#c0c0c0"/>
<rect x="440" y="399" width="3" height="16" fill="#c0c0c0"/>
<rect x="444" y="399" width="3" height="16" fill="#c0c0c0"/>
<rect x="448" y="400" width="3" height="15" fill="#c0c0c0"/>
<rect x="452" y="401" width="3" height="14" fill="#c0c0c0"/>
<rect x="456" y="404" width="3" height="11" fill="#c0c0c0"/>
<rect x="460" y="405" width="3" height="10" fill="#c0c0c0"/>
<rect x="464" y="406" width="3" height="9" fill="#c0c0c0"/>
<rect x="468" y="405" width="3" height="10" fill="#c0c0c0"/>
<rect x="472" y="404" width="3" height="11" fill="#c0c0c0"/>
<rect x="476" y="406" width="3" height="9" fill="#c0c0c0"/>
<rect x="480" y="404" width="3" height="11" fill="#c0c0c0"/>
<rect x="484" y="404" width="3" height="11" fill="#c0c0c0"/>
<rect x="488" y="403" width="3" height="12" fill="#c0c0c0"/>
<rect x="492" y="402" width="3" height="13" fill="#c0c0c0"/>
<rect x="496" y="402" width="3" height="13" fill="#c0c0c0"/>
<rect x="500" y="402" width="3" height="13" fill="#c0c0c0"/>
<rect x="504" y="403" width="3" height="12" fill="#c0c0c0"/>
<rect x="508" y="404" width="3" height="11" fill="#c0c0c0"/>
<rect x="512" y="404" width="3" height="11" fill="#c0c0c0"/>
<rect x="516" y="404" width="3" height="11" fill="#c0c0c0"/>
<rect x="520" y="404" width="3" height="11" fill="#c0c0c0"/>
<rect x="524" y="404" width="3" height="11" fill="#c0c0c0"/>
<rect x="528" y="404" width="3" height="11" fill="#c0c0c0"/>
<rect x="532" y="404" width="3" height="11" fill="#c0c0c0"/>
<rect x="536" y="406" width="3" height="9" fill="#c0c0c0"/>
<rect x="540" y="410" width="3" height="5" fill="#c0c0c0"/>
<rect x="544" y="414" width="3" height="1" fill="#c0c0c0"/>
<rect x="548" y="415" width="3" height="4" fill="#c0c0c0"/>
<rect x="552" y="415" width="3" height="6" fill="#c0c0c0"/>
<rect x="556" y="415" width="3" height="7" fill="#c0c0c0"/>
<rect x="560" y="415" width="3" height="5" fill="#c0c0c0"/>
<rect x="564" y="415" width="3" height="5" fill="#c0c0c0"/>
<rect x="568" y="415" width="3" height="2" fill="#c0c0c0"/>
<rect x="576" y="414" width="3" height="1" fill="#c0c0c0"/>
<rect x="580" y="414" width="3" height="1" fill="#c0c0c0"/>
<rect x="588" y="415" width="3" height="2" fill="#c0c0c0"/>
<rect x="592" y="415" width="3" height="5" fill="#c0c0c0"/>
<rect x="596" y="415" width="3" height="7" fill="#c0c0c0"/>
<rect x="600" y="415" width="3" height="9" fill="#c0c0c0"/>
<rect x="604" y="415" width="3" height="7" fill="#c0c0c0"/>
<rect x="608" y="415" width="3" height="5" fill="#c0c0c0"/>
<rect x="612" y="415" width="3" height="3" fill="#c0c0c0"/>
<rect x="616" y="414" width="3" height="1" fill="#c0c0c0"/>
<rect x="620" y="412" width="3" height="3" fill="#c0c0c0"/>
<rect x="624" y="412" width="3" height="3" fill="#c0c0c0"/>
<rect x="628" y="412" width="3" height="3" fill="#c0c0c0"/>
<rect x="632" y="414" width="3" height="1" fill="#c0c0c0"/>
<rect x="636" y="414" width="3" height="1" fill="#c0c0c0"/>
<rect x="644" y="415" width="3" height="3" fill="#c0c0c0"/>
<rect x="648" y="415" width="3" height="5" fill="#c0c0c0"/>
<rect x="652" y="415" width="3" height="5" fill="#c0c0c0"/>
<rect x="656" y="415" width="3" height="3" fill="#c0c0c0"/>
<rect x="660" y="415" width="3" height="3" fill="#c0c0c0"/>
<rect x="664" y="415" width="3" height="1" fill="#c0c0c0"/>
<rect x="668" y="414" width="3" height="1" fill="#c0c0c0"/>
<rect x="672" y="412" width="3" height="3" fill="#c0c0c0"/>
<rect x="676" y="410" width="3" height="5" fill="#c0c0c0"/>
<rect x="680" y="408" width="3" height="7" fill="#c0c0c0"/>
<rect x="684" y="406" width="3" height="9" fill="#c0c0c0"/>
<rect x="688" y="406" width="3" height="9" fill="#c0c0c0"/>
<rect x="692" y="404" width="3" height="11" fill="#c0c0c0"/>
<rect x="696" y="406" width="3" height="9" fill="#c0c0c0"/>
<rect x="700" y="412" width="3" height="3" fill="#c0c0c0"/>
<rect x="704" y="414" width="3" height="1" fill="#c0c0c0"/>
<rect x="708" y="415" width="3" height="3" fill="#c0c0c0"/>
<rect x="712" y="415" width="3" height="3" fill="#c0c0c0"/>
<rect x="716" y="415" width="3" height="4" fill="#c0c0c0"/>
<rect x="720" y="415" width="3" height="5" fill="#c0c0c0"/>
<rect x="724" y="415" width="3" height="7" fill="#c0c0c0"/>
<rect x="728" y="415" width="3" height="9" fill="#c0c0c0"/>
<rect x="732" y="415" width="3" height="9" fill="#c0c0c0"/>
<rect x="736" y="415" width="3" height="12" fill="#c0c0c0"/>
<rect x="740" y="415" width="3" height="13" fill="#c0c0c0"/>
<rect x="744" y="415" width="3" height="15" fill="#c0c0c0"/>
<rect x="748" y="415" width="3" height="17" fill="#c0c0c0"/>
<rect x="752" y="415" width="3" height="18" fill="#c0c0c0"/>
<rect x="756" y="415" width="3" height="19" fill="#c0c0c0"/>
<rect x="760" y="415" width="3" height="19" fill="#c0c0c0"/>
<rect x="764" y="415" width="3" height="18" fill="#c0c0c0"/>
<rect x="768" y="415" width="3" height="17" fill="#c0c0c0"/>
<rect x="772" y="415" width="3" height="17" fill="#c0c0c0"/>
<rect x="776" y="415" width="3" height="17" fill="#c0c0c0"/>
<rect x="780" y="415" width="3" height="17" fill="#c0c0c0"/>
<rect x="784" y="415" width="3" height="19" fill="#c0c0c0"/>
<rect x="788" y="415" width="3" height="21" fill="#c0c0c0"/>
<rect x="792" y="415" width="3" height="25" fill="#c0c0c0"/>
<rect x="796" y="415" width="3" height="27" fill="#c0c0c0"/>
<rect x="800" y="415" width="3" height="29" fill="#c0c0c0"/>
<rect x="804" y="415" width="3" height="29" fill="#c0c0c0"/>
<rect x="808" y="415" width="3" height="29" fill="#c0c0c0"/>
<rect x="812" y="415" width="3" height="28" fill="#c0c0c0"/>
<rect x="816" y="415" width="3" height="27" fill="#c0c0c0"/>
<rect x="820" y="415" width="3" height="26" fill="#c0c0c0"/>
<rect x="824" y="415" width="3" height="25" fill="#c0c0c0"/>
<rect x="828" y="415" width="3" height="23" fill="#c0c0c0"/>
<rect x="832" y="415" width="3" height="22" fill="#c0c0c0"/>
<rect x="836" y="415" width="3" height="21" fill="#c0c0c0"/>
<rect x="840" y="415" width="3" height="21" fill="#c0c0c0"/>
<rect x="844" y="415" width="3" height="20" fill="#c0c0c0"/>
<rect x="848" y="415" width="3" height="21" fill="#c0c0c0"/>
<rect x="852" y="415" width="3" height="21" fill="#c0c0c0"/>
<rect x="856" y="415" width="3" height="22" fill="#c0c0c0"/>
<rect x="860" y="415" width="3" height="22" fill="#c0c0c0"/>
<rect x="864" y="415" width="3" height="21" fill="#c0c0c0"/>
<rect x="868" y="415" width="3" height="21" fill="#c0c0c0"/>
<rect x="872" y="415" width="3" height="19" fill="#c0c0c0"/>
<rect x="876" y="415" width="3" height="17" fill="#c0c0c0"/>
<rect x="880" y="415" width="3" height="17" fill="#c0c0c0"/>
<rect x="884" y="415" width="3" height="15" fill="#c0c0c0"/>
<rect x="888" y="415" width="3" height="13" fill="#c0c0c0"/>
<rect x="892" y="415" width="3" height="10" fill="#c0c0c0"/>
<rect x="896" y="415" width="3" height="7" fill="#c0c0c0"/>
<rect x="900" y="415" width="3" height="7" fill="#c0c0c0"/>
<rect x="904" y="415" width="3" height="9" fill="#c0c0c0"/>
<rect x="908" y="415" width="3" height="11" fill="#c0c0c0"/>
<rect x="912" y="415" width="3" height="11" fill="#c0c0c0"/>
<rect x="916" y="415" width="3" height="10" fill="#c0c0c0"/>
<rect x="920" y="415" width="3" height="9" fill="#c0c0c0"/>
<rect x="924" y="415" width="3" height="6" fill="#c0c0c0"/>
<polyline points="5,400 15,406 25,412 35,417 45,421 55,424 65,427 75,429 85,431 92,435 100,440 106,442.5 113,443.5 120,442.5 127,440 133,437 140,436 146,437 152,440 158,445 164,449 170,451.5 176,451 182,448 188,443 194,436 200,430 206,425.5 212,422.5 218,421 226,420.5 234,421 242,421.5 250,422 258,421 266,419 274,417 280,414.5 286,413.5 292,415 298,418 304,422 310,427 314,429 318,432 324,435 328,436 334,436.5 338,436 344,433 350,430.5 356,428 362,426 370,423.5 378,420.5 384,417.5 390,415 396,412.5 402,410.5 408,408.5 414,406 420,405 426,404.5 432,403 438,402 444,401 450,400.5 456,400.5 462,401.5 468,402.5 474,403.5 480,404.5 486,405 492,405 498,404.5 504,404.5 512,404 518,404 526,404.5 534,405 540,405.5 544,406 550,408 556,410.5 562,413.5 568,416 574,417.5 580,418.5 586,418 592,417.5 598,417.5 604,418 610,419 616,419.5 622,418.5 626,418 632,416.5 638,415.5 644,414.5 650,414.5 656,415.5 662,416.5 668,417 674,416.5 680,415 686,413 692,410.5 698,408.5 704,408 710,409 716,411 722,413 728,415.5 734,419 740,421.5 746,424 752,426 758,428.5 764,430 770,431.5 776,432 782,433 788,434 794,434.5 800,436 806,437.5 812,439.5 818,441.5 822,443 828,442.5 834,441 840,439.5 846,438 852,437 858,436.5 864,435.5 870,435.5 876,435 882,434 888,432 894,430 900,428 906,426 912,425 918,424 924,423.5" fill="none" stroke="#ff0000" stroke-width="1" stroke-linejoin="round"/>
<line x1="5" y1="484.5" x2="1167" y2="484.5" stroke="#c0c0c0" stroke-width="1" stroke-dasharray="3,3"/>
<line x1="5" y1="514.5" x2="1167" y2="514.5" stroke="#c0c0c0" stroke-width="1" stroke-dasharray="3,3"/>
<polyline points="5,504.5 10,503 15,501.5 20,500.5 23,502 26,504.5 30,501.5 33,503 37,507.5 41,509.5 45,511 49,506 53,500.5 57,502 61,501.5 65,506 69,508 73,509.5 77,513 81,515 85,517 89,517.5 93,518.5 97,514 101,510 105,507 109,506.5 113,501 117,500.5 121,501 125,499.5 129,503 133,514 137,516 141,517.5 145,519 147,519.5 151,517 155,514 160,513.5 165,514.5 169,500.5 173,501.5 177,501 181,501.5 185,494.5 189,495 193,493.5 197,494 201,499.5 205,500 209,503 213,504.5 217,504 221,498.5 225,500 229,501.5 233,505.5 237,506 241,506.5 245,502 249,500 253,495.5 257,492.5 261,491.5 265,493.5 269,496 273,496.5 277,492.5 281,505.5 285,506 289,512.5 293,506.5 297,510.5 301,506.5 305,508.5 309,508 313,509.5 317,504.5 321,505 325,503.5 329,500 333,502 337,499 341,500.5 345,498 349,496.5 353,504.5 357,504.5 361,500.5 365,497.5 369,498.5 373,495 377,492 381,490.5 385,491 389,493.5 393,500.5 397,495.5 401,496.5 405,495.5 409,493 413,492.5 417,490.5 421,495 425,494 429,493.5 433,493.5 437,492 441,490.5 445,493.5 449,493.5 453,495.5 457,498 461,501.5 465,496.5 469,494.5 473,495 477,497.5 481,490.5 485,495.5 489,492.5 493,492.5 497,494 501,495.5 505,495.5 509,496.5 513,495.5 517,495 521,493 525,492 529,492 533,492 537,497.5 541,508 545,509.5 549,509.5 553,507.5 557,503.5 561,500.5 565,498 569,495.5 573,495 577,493.5 581,498 585,502.5 589,506.5 593,508.5 597,508 601,506.5 605,498 609,497.5 613,494 617,492 621,491.5 625,496 629,496.5 633,503 637,504.5 641,502.5 645,502.5 649,505 653,501 657,497.5 661,499 665,493.5 669,491.5 673,491 677,490 681,489.5 685,490 689,488.5 693,488 697,500 701,509 705,505.5 709,506.5 713,502.5 717,503.5 721,505.5 725,507.5 729,507.5 733,506.5 737,510 741,508.5 745,508.5 749,513 753,509.5 757,512 761,508 765,505.5 769,506 773,508 777,508.5 781,506 785,511.5 789,514 793,516.5 797,517.5 801,517 805,515 809,511.5 813,509 817,512 821,507.5 825,508.5 829,505 833,504.5 837,505.5 841,507.5 845,509.5 849,512 853,514 857,507.5 861,507.5 865,505 869,506.5 873,502.5 877,503.5 881,501.5 885,501.5 889,502.5 893,496 897,494 901,504 905,508 909,509.5 913,506 917,501.5 921,497.5 925,495" fill="none" stroke="#1e90ff" stroke-width="1" stroke-linejoin="round"/>
<rect x="5" y="62" width="1" height="29" fill="#ff0000"/>
<rect x="5" y="54" width="1" height="1" fill="#0000cd"/>
<rect x="4.5" y="24.5" width="1163" height="369" fill="none" stroke="#000" stroke-width="1"/>
<rect x="4.5" y="395.5" width="1163" height="63" fill="none" stroke="#000" stroke-width="1"/>
<rect x="4.5" y="460.5" width="1163" height="77" fill="none" stroke="#000" stroke-width="1"/>
<rect x="4" y="134" width="6" height="6" fill="#ff0000"/>
<rect x="6" y="136" width="2" height="2" fill="#fff"/>
<rect x="1161" y="134" width="6" height="6" fill="#ff0000"/>
<rect x="1163" y="136" width="2" height="2" fill="#fff"/>
<rect x="4" y="278" width="6" height="6" fill="#00ff00"/>
<rect x="6" y="280" width="2" height="2" fill="#fff"/>
<rect x="1161" y="278" width="6" height="6" fill="#00ff00"/>
<rect x="1163" y="280" width="2" height="2" fill="#fff"/>
<rect x="4" y="384" width="6" height="6" fill="#0000ff"/>
<rect x="6" y="386" width="2" height="2" fill="#fff"/>
<rect x="1161" y="384" width="6" height="6" fill="#0000ff"/>
<rect x="1163" y="386" width="2" height="2" fill="#fff"/>
<rect x="1168" y="27" width="2" height="1" fill="#000"/>
<rect x="1168" y="61" width="2" height="1" fill="#000"/>
<rect x="1168" y="93" width="2" height="1" fill="#000"/>
<rect x="1168" y="126" width="2" height="1" fill="#000"/>
<rect x="1168" y="159" width="2" height="1" fill="#000"/>
<rect x="1168" y="192" width="2" height="1" fill="#000"/>
<rect x="1168" y="226" width="2" height="1" fill="#000"/>
<rect x="1168" y="258" width="2" height="1" fill="#000"/>
<rect x="1168" y="291" width="2" height="1" fill="#000"/>
<rect x="1168" y="324" width="2" height="1" fill="#000"/>
<rect x="1168" y="357" width="2" height="1" fill="#000"/>
<rect x="1168" y="415" width="2" height="1" fill="#000"/>
<rect x="1168" y="484" width="2" height="1" fill="#000"/>
<rect x="1168" y="514" width="2" height="1" fill="#000"/>
<rect x="1168" y="390" width="2" height="1" fill="#000"/>
<rect x="1168" y="397" width="2" height="1" fill="#000"/>
<rect x="1168" y="457" width="2" height="1" fill="#000"/>
<rect x="1168" y="462" width="2" height="1" fill="#000"/>
<rect x="5" y="538" width="1" height="3" fill="#000"/>
<rect x="69" y="538" width="1" height="3" fill="#000"/>
<rect x="133" y="538" width="1" height="3" fill="#000"/>
<rect x="197" y="538" width="1" height="3" fill="#000"/>
<rect x="261" y="538" width="1" height="3" fill="#000"/>
<rect x="325" y="538" width="1" height="3" fill="#000"/>
<rect x="389" y="538" width="1" height="3" fill="#000"/>
<rect x="453" y="538" width="1" height="3" fill="#000"/>
<rect x="517" y="538" width="1" height="3" fill="#000"/>
<rect x="581" y="538" width="1" height="3" fill="#000"/>
<rect x="645" y="538" width="1" height="3" fill="#000"/>
<rect x="709" y="538" width="1" height="3" fill="#000"/>
<rect x="773" y="538" width="1" height="3" fill="#000"/>
<rect x="837" y="538" width="1" height="3" fill="#000"/>
<rect x="901" y="538" width="1" height="3" fill="#000"/>
</svg>
<div class="ax" style="top:22px;">1.01440</div>
<div class="ax" style="top:56px;">1.00940</div>
<div class="ax" style="top:88px;">1.00450</div>
<div class="ax" style="top:121px;">0.99960</div>
<div class="ax" style="top:154px;">0.99470</div>
<div class="ax" style="top:187px;">0.98980</div>
<div class="ax" style="top:221px;">0.98480</div>
<div class="ax" style="top:253px;">0.97990</div>
<div class="ax" style="top:286px;">0.97500</div>
<div class="ax" style="top:319px;">0.97010</div>
<div class="ax" style="top:352px;">0.96520</div>
<div class="ax" style="top:385px;">0.96030</div>
<div class="lab" style="top:36px;background:#ff0000;">1.01211</div>
<div class="lab" style="top:131px;background:#ff0000;">0.99802</div>
<div class="lab" style="top:275px;background:#00ff00;">0.97648</div>
<div class="lab" style="top:296px;background:#000;">0.97351</div>
<div class="lab" style="top:381px;background:#0000ff;">0.96073</div>
<div class="ax" style="left:1171.5px;top:396.5px;">0.003428</div>
<div class="ax" style="left:1171.5px;top:410px;">0.00</div>
<div class="ax" style="left:1171.5px;top:446px;">-0.00761</div>
<div class="ax" style="left:1171.5px;top:462px;">100</div>
<div class="ax" style="left:1170px;top:479px;">70</div>
<div class="ax" style="left:1170px;top:509px;">30</div>
<div class="ax" style="left:1171.5px;top:525px;">0</div>
<div class="dt" style="left:4.3px;">14 May 2019</div>
<div class="dt" style="left:68.3px;">1 Jun 2019</div>
<div class="dt" style="left:132.3px;">20 Jun 2019</div>
<div class="dt" style="left:196.3px;">9 Jul 2019</div>
<div class="dt" style="left:260.3px;">27 Jul 2019</div>
<div class="dt" style="left:324.3px;">15 Aug 2019</div>
<div class="dt" style="left:388.3px;">3 Sep 2019</div>
<div class="dt" style="left:452.3px;">21 Sep 2019</div>
<div class="dt" style="left:516.3px;">10 Oct 2019</div>
<div class="dt" style="left:580.3px;">29 Oct 2019</div>
<div class="dt" style="left:644.3px;">16 Nov 2019</div>
<div class="dt" style="left:708.3px;">5 Dec 2019</div>
<div class="dt" style="left:772.3px;">24 Dec 2019</div>
<div class="dt" style="left:836.3px;">11 Jan 2020</div>
<div class="dt" style="left:900.3px;">30 Jan 2020</div>
<div class="t k" style="left:20px;top:28px;font-size:9.9px;color:#000;">USDCHF,Daily</div>
<div class="t k" style="left:91px;top:28.5px;font-size:9.2px;color:#000;">0.97302 0.97405 0.97200 0.97351</div>
<svg class="abs" style="left:8px;top:30.6px;" width="9" height="6"><path d="M0 4.7 L3.7 0.4 L7.4 4.7 Z" fill="#000"/></svg>
<div class="t k" style="left:8.6px;top:400.8px;font-size:9.4px;color:#000;">MACD(12,26,9) -0.000758 -0.001385</div>
<div class="t k" style="left:8.6px;top:465.6px;font-size:9.4px;color:#000;">RSI(14) 54.8627</div>
<div class="abs" style="left:8px;top:108px;width:221px;height:2px;background:#fff;"></div>
<div class="abs" style="left:8px;top:44px;width:52px;height:25px;background:linear-gradient(#5858ff,#3c3cf0);"></div>
<div class="abs" style="left:175px;top:44px;width:52px;height:25px;background:linear-gradient(#5858ff,#3c3cf0);"></div>
<div class="abs" style="left:8px;top:68px;width:109px;height:40px;background:linear-gradient(#2c2ce6,#0000a0);"></div>
<div class="abs" style="left:119px;top:68px;width:108px;height:40px;background:linear-gradient(#2c2ce6,#0000a0);"></div>
<div class="abs" style="left:8px;top:44px;width:52px;height:1px;background:#3a3ae0;"></div>
<div class="abs" style="left:175px;top:44px;width:52px;height:1px;background:#3a3ae0;"></div>
<div class="abs" style="left:8px;top:44px;width:1px;height:64px;background:rgba(0,0,140,0.45);"></div>
<div class="abs" style="left:119px;top:68px;width:1px;height:40px;background:rgba(0,0,140,0.45);"></div>
<div class="abs" style="left:175px;top:44px;width:1px;height:24px;background:rgba(0,0,140,0.45);"></div>
<div class="abs" style="left:12px;top:68px;width:44px;height:1px;background:#7c7cff;"></div>
<div class="abs" style="left:179px;top:68px;width:44px;height:1px;background:#7c7cff;"></div>
<div class="abs" style="left:62px;top:45px;width:111px;height:21px;background:#fff;border:1px solid #b4b4b4;box-sizing:border-box;"></div>
<div class="abs" style="left:64px;top:46px;width:19px;height:19px;background:linear-gradient(#f2f2f2,#cfcfcf);border-right:1px solid #b4b4b4;box-sizing:border-box;"></div>
<div class="abs" style="left:152px;top:46px;width:20px;height:19px;background:linear-gradient(#f2f2f2,#cfcfcf);border-left:1px solid #b4b4b4;box-sizing:border-box;"></div>
<svg class="abs" style="left:70px;top:53px;" width="7" height="4"><path d="M0 0 L6 0 L3 3.5 Z" fill="#4060c0"/></svg>
<svg class="abs" style="left:158px;top:52px;" width="7" height="4"><path d="M0 3.5 L6 3.5 L3 0 Z" fill="#6080d0"/></svg>
<div class="t" style="left:124px;top:49px;font-size:12px;color:#000;">5.00</div>
<div class="t" style="left:20.5px;top:50px;font-size:12px;color:#e8e8ff;transform-origin:0 0;transform:scaleX(0.87);">SELL</div>
<div class="t" style="left:188.5px;top:50px;font-size:12px;color:#e8e8ff;transform-origin:0 0;transform:scaleX(0.93);">BUY</div>
<div class="t" style="left:28px;top:89px;font-size:12px;font-weight:bold;color:#fff;">0.97</div>
<div class="t" style="left:139px;top:89px;font-size:12px;font-weight:bold;color:#fff;">0.97</div>
<svg class="abs" style="left:56px;top:74px;" width="36" height="26" viewBox="0 0 36 26"><g fill="none" stroke="#fff" stroke-width="2.1" stroke-linejoin="miter" stroke-linecap="butt"><path transform="translate(0.8,0.6) scale(1.06,1.02)" d="M1,3.4 C2.6,1.9 4.6,1.1 6.6,1.1 C9.8,1.1 11.6,3.3 11.6,6 C11.6,9.4 9.2,11.5 5.2,11.7 L4,11.7 M5.2,11.7 C9.6,11.8 12.6,14 12.6,17.6 C12.6,21.1 9.6,23.4 5.9,23.4 C3.6,23.4 1.6,22.7 0.4,21.7"/><path transform="translate(19.6,0.6) scale(1.02,1.02)" d="M11.6,1.4 L3,1.4 L2.5,11 C3.6,10.7 4.9,10.5 6,10.5 C10,10.5 12.8,13 12.8,16.8 C12.8,20.6 9.9,23.4 6,23.4 C3.6,23.4 1.8,22.8 0.6,21.9"/></g></svg>
<svg class="abs" style="left:167px;top:74px;" width="36" height="26" viewBox="0 0 36 26"><g fill="none" stroke="#fff" stroke-width="2.1" stroke-linejoin="miter" stroke-linecap="butt"><path transform="translate(0.8,0.6) scale(1.06,1.02)" d="M1,3.4 C2.6,1.9 4.6,1.1 6.6,1.1 C9.8,1.1 11.6,3.3 11.6,6 C11.6,9.4 9.2,11.5 5.2,11.7 L4,11.7 M5.2,11.7 C9.6,11.8 12.6,14 12.6,17.6 C12.6,21.1 9.6,23.4 5.9,23.4 C3.6,23.4 1.6,22.7 0.4,21.7"/><path transform="translate(19.6,0.6) scale(1.02,1.02)" d="M0.4,1.4 L13,1.4 L4.6,23.6"/></g></svg>
<div class="t" style="left:95.5px;top:73px;font-size:12px;font-weight:bold;color:#fff;">1</div>
<div class="t" style="left:206.5px;top:73px;font-size:12px;font-weight:bold;color:#fff;">3</div>
<div class="abs" style="left:0;top:558px;width:1207px;height:1px;background:#e4e4e4;"></div>
<div class="abs" style="left:0;top:559px;width:1207px;height:1px;background:#f6f6f6;"></div>
<div class="abs" style="left:0;top:560px;width:1207px;height:1px;background:#000;"></div>
<div class="abs" style="left:0;top:561px;width:1207px;height:18px;background:#f0f0f0;"></div>
<div class="abs" style="left:0;top:579px;width:1207px;height:4px;background:#f8f8f8;"></div>
<div class="abs" style="left:0;top:558px;width:2px;height:21px;background:#787878;"></div>
<div class="abs" style="left:0;top:558px;width:1px;height:21px;background:#a8a8a8;"></div>
<div class="abs" style="left:215px;top:559px;width:98px;height:2px;background:#fff;"></div>
<div class="abs" style="left:214px;top:560px;width:100px;height:19px;background:#fff;border:1px solid #000;border-top:none;box-sizing:border-box;"></div>
<div class="abs" style="left:215px;top:579px;width:100px;height:1px;background:#c8c8c8;"></div>
<div class="tab" style="left:18px;color:#6e6e6e;">EURUSD,Daily</div>
<div class="tab" style="left:121px;color:#6e6e6e;">AUDUSD,Daily</div>
<div class="tab" style="left:224.5px;color:#000;">USDCHF,Daily</div>
<div class="tab" style="left:325.3px;color:#6e6e6e;">USDCAD,Daily</div>
<div class="tab" style="left:427.8px;color:#6e6e6e;">USDCNH,Daily</div>
<div class="tab" style="left:533px;color:#6e6e6e;">XAUUSD,Daily</div>
<div class="tab" style="left:636.6px;color:#6e6e6e;">DJ30,H4</div>
<div class="tab" style="left:706px;color:#6e6e6e;">USDOil,Daily</div>
<div class="tab" style="left:800px;color:#6e6e6e;">USDCHF,H1</div>
<div class="tab" style="left:890.4px;color:#6e6e6e;">GBPUSD,Daily</div>
<div class="tab" style="left:994px;color:#6e6e6e;">EURUSD,H1</div>
<div class="tab" style="left:1085px;color:#6e6e6e;">GBPAUD,H1</div>
<div class="sep" style="left:110px;"></div>
<div class="sep" style="left:417px;"></div>
<div class="sep" style="left:522px;"></div>
<div class="sep" style="left:626px;"></div>
<div class="sep" style="left:694px;"></div>
<div class="sep" style="left:790px;"></div>
<div class="sep" style="left:878px;"></div>
<div class="sep" style="left:982px;"></div>
<div class="sep" style="left:1074px;"></div>
<div class="sep" style="left:1166px;"></div>
<svg class="abs" style="left:1180px;top:564px;" width="27" height="10"><path d="M6 1.2 L6 8.8 L2.2 5 Z" fill="#a6a6a6"/><path d="M21.2 1.2 L21.2 8.8 L25 5 Z" fill="#000"/></svg>
</body></html>
